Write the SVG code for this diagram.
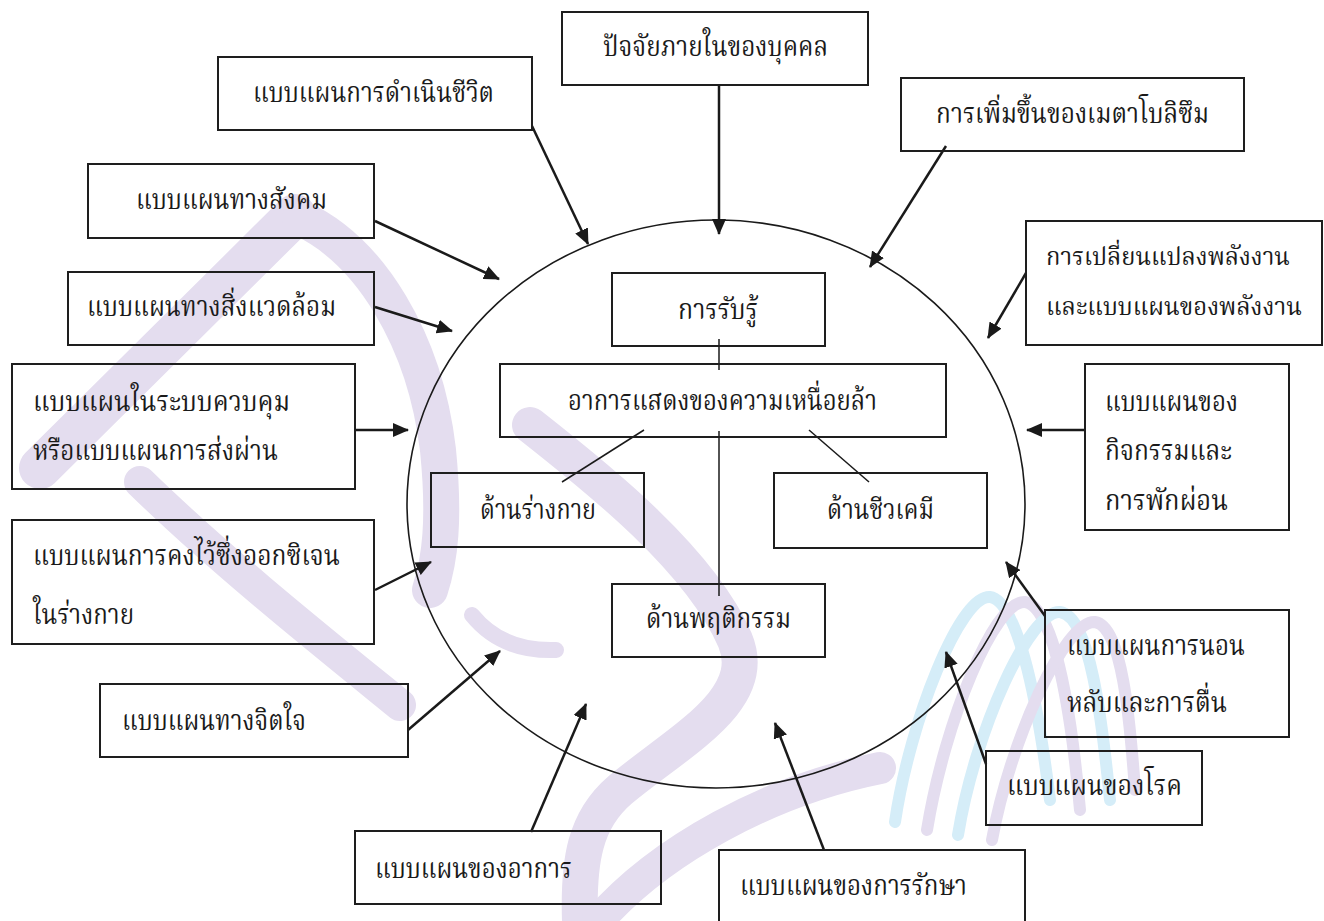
<svg xmlns="http://www.w3.org/2000/svg" width="1324" height="921" viewBox="0 0 1324 921">
<style>
.t{font-family:'Noto Serif Thai','Noto Sans Thai','Noto Sans','DejaVu Sans',sans-serif;font-size:28px;fill:#1a1a1a}
.s{font-size:24px}
.b{fill:none;stroke:#1e1e1e;stroke-width:2}
.a{stroke:#1a1a1a;stroke-width:2.5;fill:none;marker-end:url(#ah)}
.l{stroke:#1a1a1a;stroke-width:1.5;fill:none}
.wm{fill:none;stroke:#e4ddef;stroke-linecap:round;stroke-linejoin:round}
.wb{fill:none;stroke:#d5edf8;stroke-linecap:round}
</style>
<defs>
<marker id="ah" viewBox="0 0 16 14" refX="15" refY="7" markerWidth="16" markerHeight="14" markerUnits="userSpaceOnUse" orient="auto"><path d="M0,0 L16,7 L0,14 z" fill="#1a1a1a"/></marker>
</defs>
<rect width="1324" height="921" fill="#ffffff"/>
<g id="watermark">
<path class="wm" stroke-width="42" d="M40 468 L295 215"/>
<path class="wm" stroke-width="36" d="M300 218 C370 250 425 340 438 450 C445 520 440 560 430 590"/>
<path class="wm" stroke-width="32" d="M140 482 C220 560 320 640 400 705"/>
<path class="wm" stroke-width="36" d="M530 425 C600 480 700 560 735 640 C760 700 680 740 620 790 C585 820 578 860 580 921"/>
<path class="wm" stroke-width="16" d="M472 615 Q502 652 556 650"/>
<path class="wm" stroke-width="32" d="M598 921 C660 850 770 790 880 768"/>
<path class="wb" stroke-width="12" d="M895 822 C910 720 960 595 990 597 C1020 600 1040 720 1050 800"/>
<path class="wm" stroke-width="12" d="M927 830 C945 720 995 600 1025 602 C1055 606 1072 720 1080 810"/>
<path class="wb" stroke-width="12" d="M958 835 C975 730 1030 610 1060 612 C1090 616 1102 720 1110 800"/>
<path class="wm" stroke-width="12" d="M992 840 C1010 740 1065 620 1095 622 C1122 626 1130 720 1135 790"/>
</g>
<g id="connectors">
<line class="l" x1="719" y1="339" x2="719" y2="370"/>
<line class="l" x1="719" y1="431" x2="719" y2="596"/>
<line class="l" x1="644" y1="430" x2="562" y2="482"/>
<line class="l" x1="809" y1="430" x2="869" y2="482"/>
<line class="a" x1="532" y1="126" x2="588" y2="244"/>
<line class="a" x1="719" y1="86" x2="719" y2="234"/>
<line class="a" x1="946" y1="146" x2="870" y2="267"/>
<line class="a" x1="1026" y1="273" x2="988" y2="338"/>
<line class="a" x1="375" y1="221" x2="499" y2="279"/>
<line class="a" x1="375" y1="307" x2="452" y2="331"/>
<line class="a" x1="356" y1="430" x2="408" y2="430"/>
<line class="a" x1="1085" y1="430" x2="1027" y2="430"/>
<line class="a" x1="375" y1="590" x2="431" y2="562"/>
<line class="a" x1="408" y1="730" x2="500" y2="651"/>
<line class="a" x1="531" y1="832" x2="586" y2="704"/>
<line class="a" x1="824" y1="850" x2="775" y2="723"/>
<line class="a" x1="986" y1="764" x2="946" y2="652"/>
<line class="a" x1="1045" y1="616" x2="1006" y2="562"/>
</g>
<g id="circle"><ellipse cx="716" cy="504" rx="309" ry="284" fill="none" stroke="#1a1a1a" stroke-width="1.6"/></g>
<g id="n-internal"><rect class="b" x="562" y="12" width="306" height="73"/><text class="t" x="603" y="56" textLength="225" lengthAdjust="spacingAndGlyphs">ปัจจัยภายในของบุคคล</text></g>
<g id="n-lifestyle"><rect class="b" x="218" y="57" width="314" height="73"/><text class="t" x="253" y="102" textLength="241" lengthAdjust="spacingAndGlyphs">แบบแผนการดำเนินชีวิต</text></g>
<g id="n-metabolism"><rect class="b" x="901" y="78" width="343" height="73"/><text class="t" x="936" y="123" textLength="273" lengthAdjust="spacingAndGlyphs">การเพิ่มขึ้นของเมตาโบลิซึม</text></g>
<g id="n-social"><rect class="b" x="88" y="164" width="286" height="74"/><text class="t" x="136" y="209" textLength="191" lengthAdjust="spacingAndGlyphs">แบบแผนทางสังคม</text></g>
<g id="n-energy"><rect class="b" x="1026" y="221" width="296" height="124"/><text class="t s" x="1046" y="265" textLength="244" lengthAdjust="spacingAndGlyphs">การเปลี่ยนแปลงพลังงาน</text><text class="t s" x="1046" y="315" textLength="256" lengthAdjust="spacingAndGlyphs">และแบบแผนของพลังงาน</text></g>
<g id="n-environment"><rect class="b" x="68" y="272" width="306" height="73"/><text class="t" x="87" y="316" textLength="249" lengthAdjust="spacingAndGlyphs">แบบแผนทางสิ่งแวดล้อม</text></g>
<g id="n-perception"><rect class="b" x="612" y="273" width="213" height="73"/><text class="t" x="678" y="319" textLength="80" lengthAdjust="spacingAndGlyphs">การรับรู้</text></g>
<g id="n-fatigue"><rect class="b" x="500" y="364" width="446" height="73"/><text class="t" x="568" y="410" textLength="309" lengthAdjust="spacingAndGlyphs">อาการแสดงของความเหนื่อยล้า</text></g>
<g id="n-regulation"><rect class="b" x="12" y="364" width="343" height="125"/><text class="t" x="33" y="411" textLength="257" lengthAdjust="spacingAndGlyphs">แบบแผนในระบบควบคุม</text><text class="t" x="33" y="460" textLength="245" lengthAdjust="spacingAndGlyphs">หรือแบบแผนการส่งผ่าน</text></g>
<g id="n-activity"><rect class="b" x="1085" y="364" width="204" height="166"/><text class="t" x="1105" y="411" textLength="133" lengthAdjust="spacingAndGlyphs">แบบแผนของ</text><text class="t" x="1105" y="460" textLength="127" lengthAdjust="spacingAndGlyphs">กิจกรรมและ</text><text class="t" x="1105" y="510" textLength="123" lengthAdjust="spacingAndGlyphs">การพักผ่อน</text></g>
<g id="n-physical"><rect class="b" x="431" y="473" width="213" height="74"/><text class="t" x="480" y="519" textLength="116" lengthAdjust="spacingAndGlyphs">ด้านร่างกาย</text></g>
<g id="n-biochem"><rect class="b" x="774" y="473" width="213" height="75"/><text class="t" x="827" y="519" textLength="107" lengthAdjust="spacingAndGlyphs">ด้านชีวเคมี</text></g>
<g id="n-oxygen"><rect class="b" x="12" y="520" width="362" height="124"/><text class="t" x="33" y="565" textLength="307" lengthAdjust="spacingAndGlyphs">แบบแผนการคงไว้ซึ่งออกซิเจน</text><text class="t" x="33" y="624" textLength="101" lengthAdjust="spacingAndGlyphs">ในร่างกาย</text></g>
<g id="n-behavior"><rect class="b" x="612" y="584" width="213" height="73"/><text class="t" x="646" y="628" textLength="145" lengthAdjust="spacingAndGlyphs">ด้านพฤติกรรม</text></g>
<g id="n-sleep"><rect class="b" x="1045" y="610" width="244" height="127"/><text class="t" x="1067" y="655" textLength="178" lengthAdjust="spacingAndGlyphs">แบบแผนการนอน</text><text class="t" x="1067" y="712" textLength="160" lengthAdjust="spacingAndGlyphs">หลับและการตื่น</text></g>
<g id="n-psych"><rect class="b" x="100" y="684" width="308" height="73"/><text class="t" x="122" y="730" textLength="184" lengthAdjust="spacingAndGlyphs">แบบแผนทางจิตใจ</text></g>
<g id="n-disease"><rect class="b" x="986" y="751" width="216" height="74"/><text class="t" x="1007" y="795" textLength="175" lengthAdjust="spacingAndGlyphs">แบบแผนของโรค</text></g>
<g id="n-symptom"><rect class="b" x="355" y="831" width="306" height="73"/><text class="t" x="375" y="878" textLength="197" lengthAdjust="spacingAndGlyphs">แบบแผนของอาการ</text></g>
<g id="n-treatment"><rect class="b" x="719" y="850" width="306" height="90"/><text class="t" x="740" y="895" textLength="227" lengthAdjust="spacingAndGlyphs">แบบแผนของการรักษา</text></g>
</svg>
